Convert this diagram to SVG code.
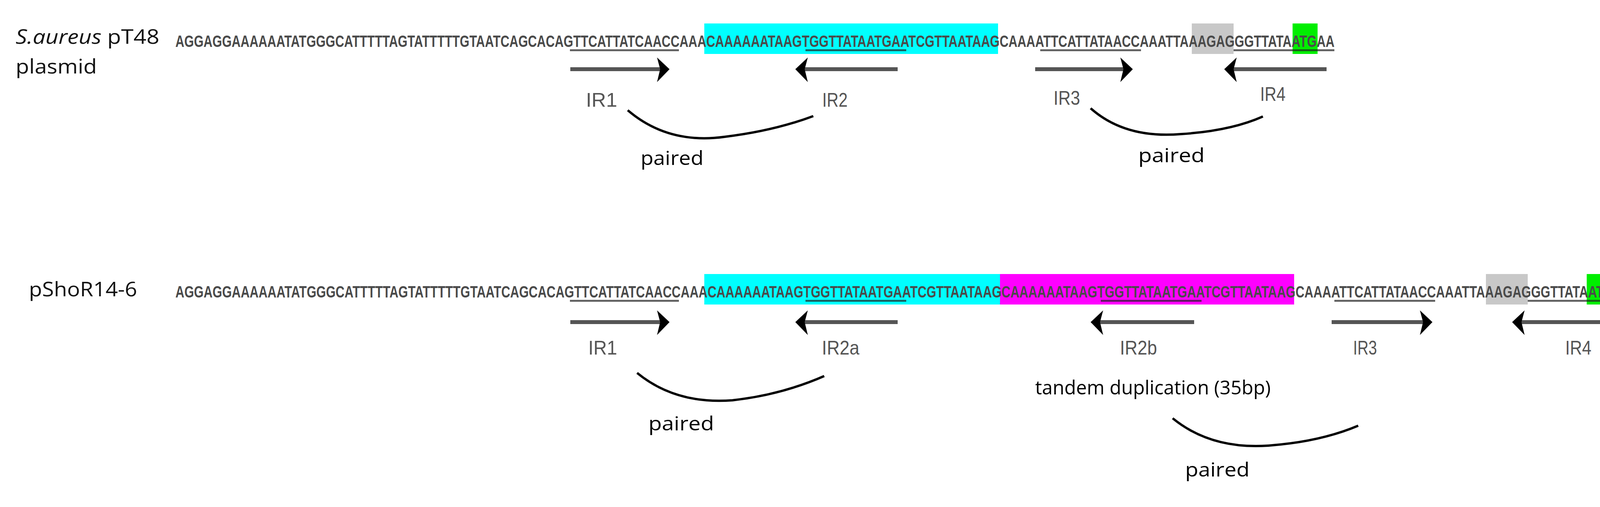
<svg xmlns="http://www.w3.org/2000/svg" width="4228" height="1297" viewBox="0 0 4228 1297">
<style>
.seq{font-family:"Liberation Sans",sans-serif;font-size:42px;fill:#4a4a4a;font-weight:bold}
.lab{font-family:"Open Sans","Liberation Sans",sans-serif;font-size:52px;fill:#111}
.ir{font-family:"Liberation Sans",sans-serif;font-size:50px;fill:#555}
.pr{font-family:"Open Sans","Liberation Sans",sans-serif;font-size:50px;fill:#000}
.ul{fill:#222;opacity:0.7}
.sh{fill:#555}
.hd{fill:#000}
.cv{fill:none;stroke:#000;stroke-width:6}
</style>
<g id="row1">
<rect x="1803" y="60" width="752" height="78" fill="#00ffff"/>
<rect x="3051" y="60" width="107" height="78" fill="#c8c8c8"/>
<rect x="3309" y="60" width="64" height="78" fill="#00ee00"/>
<text class="lab" x="40" y="112" textLength="368" lengthAdjust="spacingAndGlyphs"><tspan font-style="italic">S.aureus</tspan> pT48</text>
<text class="lab" x="40" y="188" textLength="208" lengthAdjust="spacingAndGlyphs">plasmid</text>
<text class="seq" transform="translate(449,120) scale(0.7,1)" x="0" y="0" textLength="4239" lengthAdjust="spacingAndGlyphs">AGGAGGAAAAAATATGGGCATTTTTAGTATTTTTGTAATCAGCACAGTTCATTATCAACCAAACAAAAAATAAGTGGTTATAATGAATCGTTAATAAGCAAAATTCATTATAACCAAATTAAAGAGGGTTATAATGAA</text>
<rect class="ul" x="1459" y="126" width="279" height="5"/>
<rect class="ul" x="2062" y="126" width="258" height="5"/>
<rect class="ul" x="2663" y="126" width="258" height="5"/>
<rect class="ul" x="3158" y="126" width="258" height="5"/>
</g>
<g id="row1-arrows">
<rect class="sh" x="1460" y="172" width="244" height="10"/><polygon class="hd" points="1714,177 1682,147 1690,177 1682,210"/>
<rect class="sh" x="2046" y="172" width="252" height="10"/><polygon class="hd" points="2036,177 2068,147 2060,177 2068,210"/>
<rect class="sh" x="2650" y="172" width="240" height="10"/><polygon class="hd" points="2900,177 2868,147 2876,177 2868,210"/>
<rect class="sh" x="3144" y="172" width="252" height="10"/><polygon class="hd" points="3134,177 3166,147 3158,177 3166,210"/>
<text class="ir" x="1500" y="273" textLength="80" lengthAdjust="spacingAndGlyphs">IR1</text>
<text class="ir" x="2105" y="273" textLength="65" lengthAdjust="spacingAndGlyphs">IR2</text>
<text class="ir" x="2697" y="268" textLength="68" lengthAdjust="spacingAndGlyphs">IR3</text>
<text class="ir" x="3226" y="258" textLength="65" lengthAdjust="spacingAndGlyphs">IR4</text>
</g>
<g id="row1-pairs">
<path class="cv" d="M1607,282 Q1710,370 1855,350 Q1980,335 2082,297"/>
<text class="pr" x="1640" y="422" textLength="161" lengthAdjust="spacingAndGlyphs">paired</text>
<path class="cv" d="M2792,277 Q2880,355 3023,343 Q3150,335 3233,298"/>
<text class="pr" x="2914" y="415" textLength="170" lengthAdjust="spacingAndGlyphs">paired</text>
</g>
<g id="row2">
<rect x="1803" y="701" width="757" height="78" fill="#00ffff"/>
<rect x="2560" y="701" width="753" height="78" fill="#ff00ff"/>
<rect x="3804" y="701" width="107" height="78" fill="#c8c8c8"/>
<rect x="4062" y="701" width="64" height="78" fill="#00ee00"/>
<text class="lab" x="74" y="758" textLength="277" lengthAdjust="spacingAndGlyphs">pShoR14-6</text>
<text class="seq" transform="translate(449,761) scale(0.7,1)" x="0" y="0" textLength="5324" lengthAdjust="spacingAndGlyphs">AGGAGGAAAAAATATGGGCATTTTTAGTATTTTTGTAATCAGCACAGTTCATTATCAACCAAACAAAAAATAAGTGGTTATAATGAATCGTTAATAAGCAAAAAATAAGTGGTTATAATGAATCGTTAATAAGCAAAATTCATTATAACCAAATTAAAGAGGGTTATAATGAA</text>
<rect class="ul" x="1459" y="767" width="279" height="5"/>
<rect class="ul" x="2062" y="767" width="258" height="5"/>
<rect class="ul" x="2818" y="767" width="258" height="5"/>
<rect class="ul" x="3416" y="767" width="258" height="5"/>
<rect class="ul" x="3911" y="767" width="265" height="5"/>
</g>
<g id="row2-arrows">
<rect class="sh" x="1460" y="819" width="244" height="10"/><polygon class="hd" points="1714,824 1682,794 1690,824 1682,857"/>
<rect class="sh" x="2046" y="819" width="252" height="10"/><polygon class="hd" points="2036,824 2068,794 2060,824 2068,857"/>
<rect class="sh" x="2802" y="819" width="255" height="10"/><polygon class="hd" points="2792,824 2824,794 2816,824 2824,857"/>
<rect class="sh" x="3409" y="819" width="248" height="10"/><polygon class="hd" points="3667,824 3635,794 3643,824 3635,857"/>
<rect class="sh" x="3881" y="819" width="254" height="10"/><polygon class="hd" points="3871,824 3903,794 3895,824 3903,857"/>
<text class="ir" x="1506" y="907" textLength="74" lengthAdjust="spacingAndGlyphs">IR1</text>
<text class="ir" x="2104" y="907" textLength="96" lengthAdjust="spacingAndGlyphs">IR2a</text>
<text class="ir" x="2867" y="907" textLength="95" lengthAdjust="spacingAndGlyphs">IR2b</text>
<text class="ir" x="3464" y="907" textLength="61" lengthAdjust="spacingAndGlyphs">IR3</text>
<text class="ir" x="4007" y="907" textLength="67" lengthAdjust="spacingAndGlyphs">IR4</text>
</g>
<g id="row2-pairs">
<path class="cv" d="M1631,954 Q1730,1035 1875,1024 Q2000,1010 2110,962"/>
<text class="pr" x="1660" y="1101" textLength="168" lengthAdjust="spacingAndGlyphs">paired</text>
<text class="pr" x="2650" y="1009" font-size="44" textLength="603" lengthAdjust="spacingAndGlyphs">tandem duplication (35bp)</text>
<path class="cv" d="M3002,1070 Q3100,1150 3247,1140 Q3380,1130 3477,1089"/>
<text class="pr" x="3034" y="1219" textLength="165" lengthAdjust="spacingAndGlyphs">paired</text>
</g>
</svg>
